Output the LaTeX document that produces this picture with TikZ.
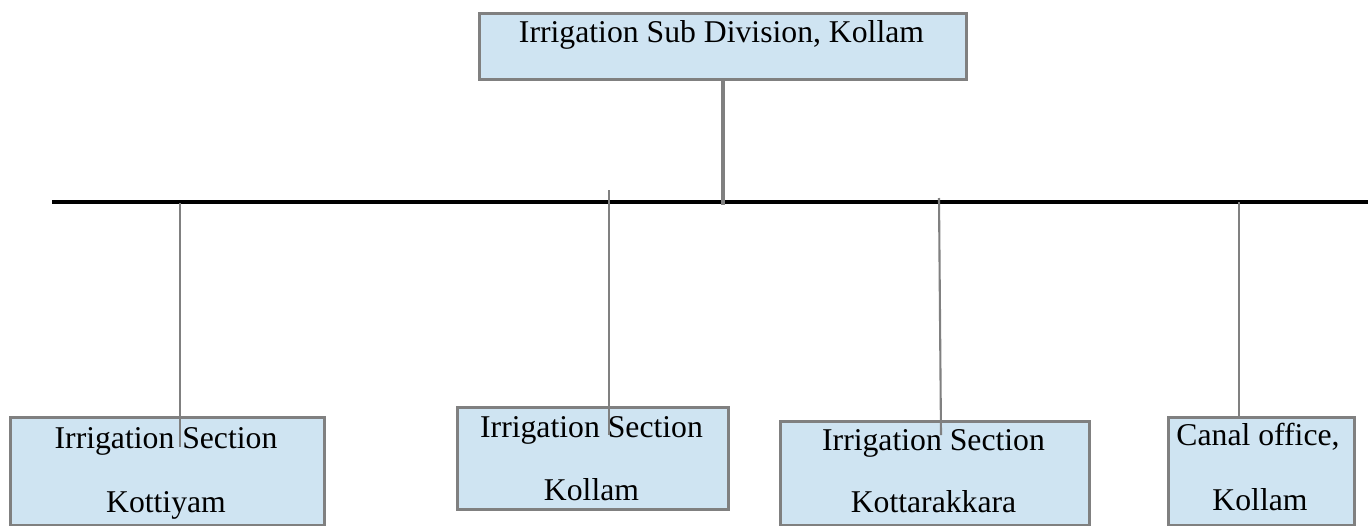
\documentclass[tikz,border=0pt]{standalone}
\usepackage{fontspec}
\setmainfont{Liberation Serif}
\definecolor{boxfill}{RGB}{207,228,242}
\definecolor{boxline}{RGB}{128,128,128}
\tikzset{
  orgbox/.style={draw=boxline, line width=2.6pt, fill=boxfill, inner sep=0pt, anchor=north west},
  txt/.style={inner sep=0pt, anchor=base, font=\fontsize{31.7}{36}\selectfont},
  conn/.style={draw=boxline, line width=2.1pt},
  mainconn/.style={draw=boxline, line width=3.4pt},
  bus/.style={draw=black, line width=3.2pt}
}
\begin{document}
\begin{tikzpicture}[x=1pt,y=-1pt]
\useasboundingbox (0,0) rectangle (1368,525);
% boxes
\node[orgbox, minimum width=487pt, minimum height=66pt] (top) at (478,12) {};
\node[orgbox, minimum width=314pt, minimum height=108pt] (b1) at (9,416) {};
\node[orgbox, minimum width=271pt, minimum height=102pt] (b2) at (456,406) {};
\node[orgbox, minimum width=309pt, minimum height=104pt] (b3) at (779,420) {};
\node[orgbox, minimum width=186pt, minimum height=108pt] (b4) at (1167,416) {};
% texts
\node[txt] (toptxt) at (721.5,42) {Irrigation Sub Division, Kollam};
\node[txt] (b1a) at (166,448) {Irrigation Section};
\node[txt] (b1b) at (166,512) {Kottiyam};
\node[txt] (b2a) at (591.5,437) {Irrigation Section};
\node[txt] (b2b) at (591.5,500) {Kollam};
\node[txt] (b3a) at (933.5,450) {Irrigation Section};
\node[txt] (b3b) at (933.5,512) {Kottarakkara};
\node[txt] (b4a) at (1258,445) {Canal office,};
\node[txt] (b4b) at (1260,510) {Kollam};
% bus line
\coordinate (busL) at (52,202);
\coordinate (busR) at (1368,202);
\draw[bus] (busL) -- (busR);
% connectors
\coordinate (topend) at (723,205);
\draw[mainconn] (top.south -| topend) -- (topend);
\coordinate (c1a) at (180,203);
\coordinate (c1b) at (180,447);
\draw[conn] (c1a) -- (c1b);
\coordinate (c2a) at (609,190);
\coordinate (c2b) at (609,435);
\draw[conn] (c2a) -- (c2b);
\coordinate (c3a) at (939,198);
\coordinate (c3b) at (941,435);
\draw[conn] (c3a) -- (c3b);
\coordinate (c4a) at (1239,202);
\draw[conn] (c4a) -- (c4a |- b4.north);
\end{tikzpicture}
\end{document}
